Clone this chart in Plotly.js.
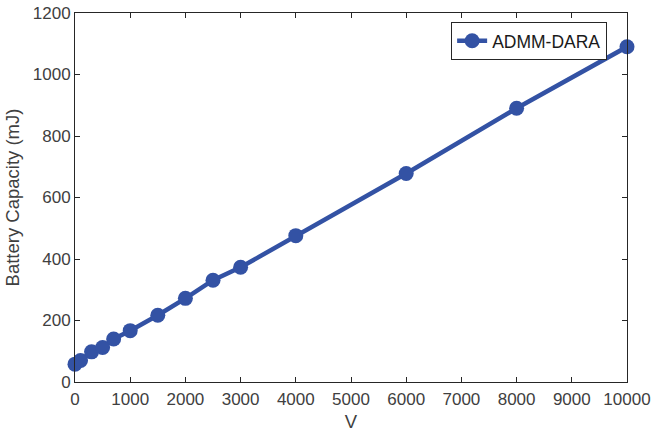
<!DOCTYPE html>
<html>
<head>
<meta charset="utf-8">
<script src="https://cdn.plot.ly/plotly-3.0.1.min.js"></script>
<style>html,body{margin:0;padding:0;background:#fff;}#chart{width:652px;height:432px;}</style>
</head>
<body>
<div id="chart"></div>
<script>
// Battery capacity required versus control parameter V
const vValues = [0, 100, 300, 500, 700, 1000, 1500, 2000, 2500, 3000, 4000, 6000, 8000, 10000];
const capacity = [58, 70, 98, 112, 140, 167, 217, 272, 331, 373, 476, 678, 890, 1090];
const seriesName = 'ADMM-DARA';
const xTicks = [0, 1000, 2000, 3000, 4000, 5000, 6000, 7000, 8000, 9000, 10000];
const yTicks = [0, 200, 400, 600, 800, 1000, 1200];

const lineColor = '#3352a4';
const axisColor = '#262626';
const family = 'Liberation Sans, Arial, sans-serif';
const tickFont = {family: family, size: 17, color: '#404040'};
const labelFont = {family: family, size: 18.5, color: '#404040'};

const trace = {
  x: vValues, y: capacity, name: seriesName, type: 'scatter', mode: 'lines+markers',
  cliponaxis: false,
  line: {color: lineColor, width: 4.5},
  marker: {color: lineColor, size: 15}
};

const axisBase = {
  showline: true, mirror: 'ticks', linecolor: axisColor, linewidth: 1,
  ticks: 'inside', ticklen: 5, tickcolor: axisColor, showgrid: false, zeroline: false,
  tickfont: tickFont
};

const layout = {
  width: 652, height: 432,
  margin: {l: 75, r: 25, t: 13, b: 50},
  paper_bgcolor: '#fff', plot_bgcolor: '#fff',
  showlegend: true,
  legend: {x: 0.964, y: 0.976, xanchor: 'right', yanchor: 'top',
           bordercolor: axisColor, borderwidth: 1, bgcolor: '#fff',
           font: {family: family, size: 17.5, color: '#1a1a1a'},
           itemwidth: 30, tracegroupgap: 0},
  xaxis: Object.assign({}, axisBase, {
    range: [0, 10000], tickvals: xTicks, ticktext: xTicks.map(String),
    ticklabelstandoff: 2,
    title: {text: 'V', font: labelFont, standoff: 9}
  }),
  yaxis: Object.assign({}, axisBase, {
    range: [0, 1200], tickvals: yTicks, ticktext: yTicks.map(String),
    title: {text: 'Battery Capacity (mJ)', font: labelFont, standoff: 8}
  })
};

Plotly.newPlot('chart', [trace], layout, {displayModeBar: false, staticPlot: true});
</script>
</body>
</html>
